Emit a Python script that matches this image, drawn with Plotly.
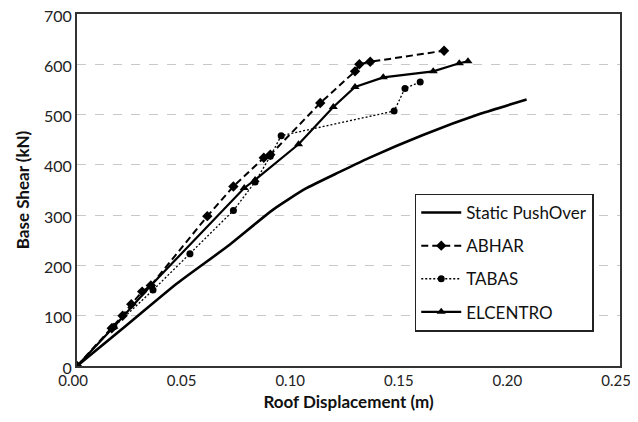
import plotly.graph_objects as go

static_x = [0, 0.022, 0.046, 0.069, 0.090, 0.105, 0.121, 0.134, 0.159, 0.186, 0.207]
static_y = [0, 78, 164, 237, 310, 352, 386, 413, 459, 502, 530]

abhar_x = [0, 0.016, 0.021, 0.025, 0.030, 0.034, 0.060, 0.072, 0.086, 0.089, 0.112, 0.128, 0.130, 0.135, 0.169]
abhar_y = [0, 75, 100, 123, 148, 160, 298, 357, 414, 420, 523, 586, 600, 605, 627]

tabas_x = [0, 0.017, 0.035, 0.052, 0.072, 0.082, 0.089, 0.094, 0.146, 0.151, 0.158]
tabas_y = [0, 78, 151, 223, 309, 366, 417, 458, 507, 552, 565]

elc_x = [0, 0.017, 0.034, 0.077, 0.082, 0.102, 0.118, 0.128, 0.141, 0.164, 0.176, 0.180]
elc_y = [0, 78, 160, 354, 370, 441, 515, 555, 574, 586, 602, 606]

x_ticks = [0, 0.05, 0.10, 0.15, 0.20, 0.25]
y_ticks = [0, 100, 200, 300, 400, 500, 600, 700]

FONT = "Lato"

fig = go.Figure()
fig.add_trace(go.Scatter(x=static_x, y=static_y, mode="lines", name="Static PushOver",
                         line=dict(color="black", width=2.6, shape="spline", smoothing=0.5),
                         legendgroup="a"))
fig.add_trace(go.Scatter(x=abhar_x, y=abhar_y, mode="lines+markers", name="ABHAR",
                         line=dict(color="black", width=2, dash="7px,4px"),
                         marker=dict(symbol="diamond", size=8, color="black"),
                         legendgroup="b"))
fig.add_trace(go.Scatter(x=tabas_x, y=tabas_y, mode="lines+markers", name="TABAS",
                         line=dict(color="black", width=1.3, dash="2px,2px"),
                         marker=dict(symbol="circle", size=7, color="black"),
                         legendgroup="c"))
fig.add_trace(go.Scatter(x=elc_x, y=elc_y, mode="lines+markers", name="ELCENTRO",
                         line=dict(color="black", width=2.2),
                         marker=dict(symbol="triangle-up", size=8, color="black"),
                         legendgroup="d"))

fig.update_layout(
    width=622, height=406,
    margin=dict(l=69, r=10, t=6, b=48),
    paper_bgcolor="white", plot_bgcolor="white",
    font=dict(family=FONT, color="#222"),
    showlegend=True,
    legend=dict(x=0.622, y=0.49, xanchor="left", yanchor="top",
                bordercolor="#222", borderwidth=1.5, bgcolor="white",
                font=dict(size=17, family=FONT, color="#111"),
                tracegroupgap=8, itemwidth=40),
)
fig.update_xaxes(range=[0, 0.25], tickvals=x_ticks, tickformat=".2f",
                 showgrid=False, zeroline=False, automargin=False,
                 ticklabeloverflow="allow", ticklabelshift=-4,
                 showline=True, linecolor="#333", linewidth=2, mirror=True,
                 tickfont=dict(size=15, family=FONT, color="#222"),
                 ticks="",
                 title=dict(text="<b>Roof Displacement (m)</b>", font=dict(size=17, family=FONT, color="#111"), standoff=8))
fig.update_yaxes(range=[0, 700], tickvals=y_ticks,
                 showgrid=True, gridcolor="#c8c8c8", griddash="dash", gridwidth=1,
                 zeroline=False, automargin=False,
                 ticklabeloverflow="allow", ticklabelshift=2,
                 showline=True, linecolor="#333", linewidth=2, mirror=True,
                 tickfont=dict(size=16, family=FONT, color="#222"),
                 ticks="",
                 title=dict(text="<b>Base Shear (kN)</b>", font=dict(size=17, family=FONT, color="#111"), standoff=10))

fig.write_html("out.html")
